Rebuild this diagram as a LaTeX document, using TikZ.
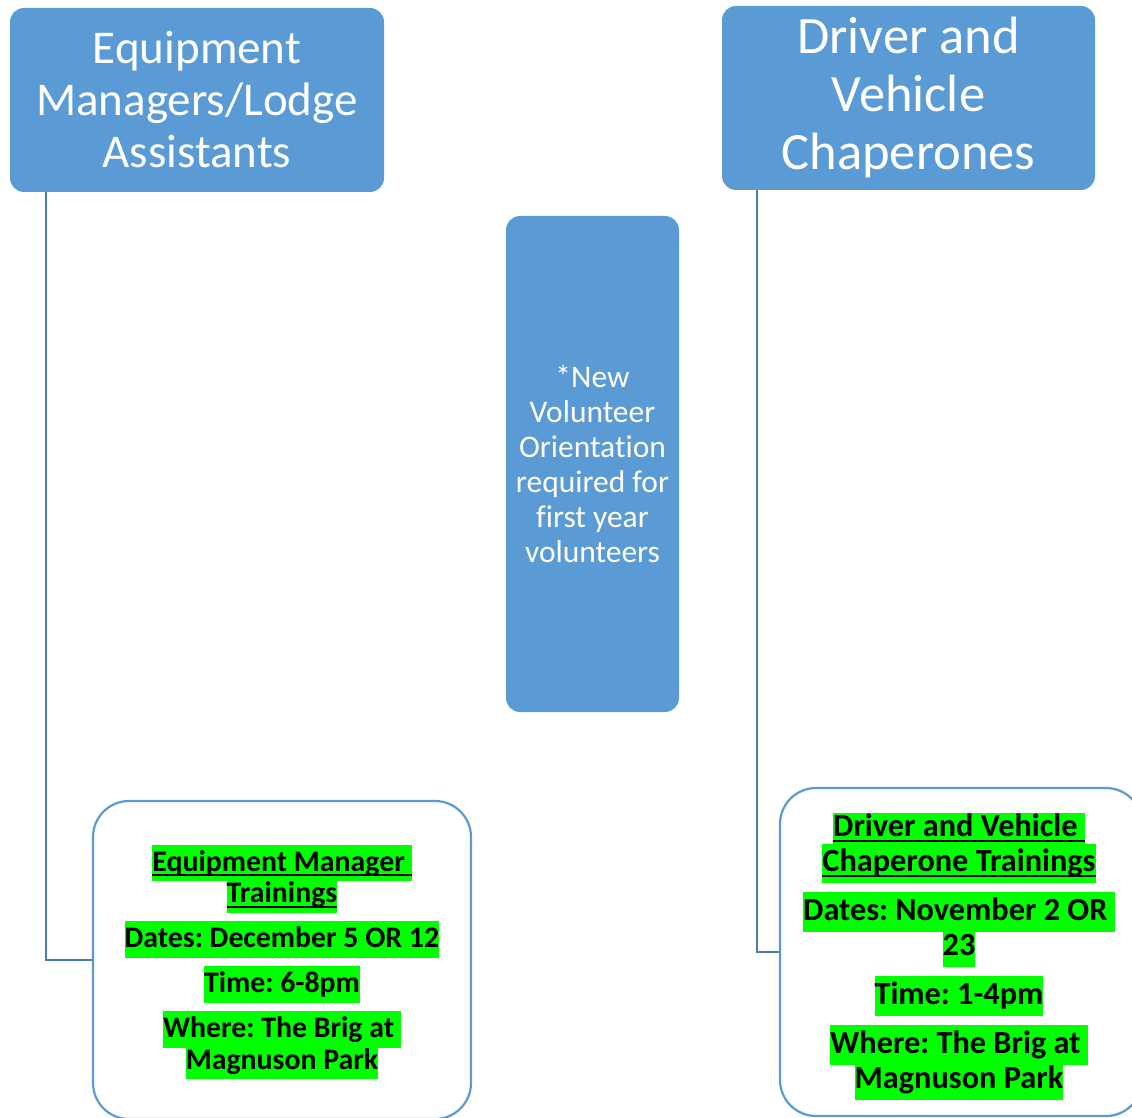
\documentclass[tikz,border=0pt]{standalone}
\usepackage{fontspec}
\setmainfont{Carlito}[Ligatures=NoCommon]
\definecolor{boxblue}{HTML}{5B9BD5}
\definecolor{linkblue}{HTML}{4A7EB4}
\definecolor{hlgreen}{HTML}{00FF00}
\newcommand\hlline[2][0pt]{{\setlength{\fboxsep}{0pt}\colorbox{hlgreen}{\vrule height \dimexpr 0.69\baselineskip+#1\relax depth 0.31\baselineskip width 0pt\relax #2}}}
\newcommand\myul[1]{\setbox0=\hbox{#1}\rlap{\vrule height -0.1em depth 0.165em width \wd0}\box0}
\newcommand\tightlines{\lineskiplimit=-100pt\relax\lineskip=0pt\relax\frenchspacing}
\tikzset{
  rolebox/.style={fill=boxblue, draw=none, rounded corners=14pt, text=white, align=center, inner sep=0pt},
  trainbox/.style={draw=boxblue, line width=2.2pt, fill=white, rounded corners=36pt, inner sep=0pt},
  link/.style={draw=linkblue, line width=2pt},
}
\begin{document}
\begin{tikzpicture}[x=1pt,y=-1pt]
\useasboundingbox (0,0) rectangle (1132,1118);
% top role boxes
\node[rolebox, minimum width=374pt, minimum height=184pt,
      font=\fontsize{47}{52}\selectfont] (em) at (197,100)
  {Equipment\\Managers/Lodge\\Assistants};
\node[rolebox, minimum width=373pt, minimum height=184pt,
      font=\fontsize{52.5}{58}\selectfont] (dv) at (908.5,98)
  {Driver and\\Vehicle\\Chaperones};
\node[rolebox, minimum width=173pt, minimum height=496pt,
      font=\fontsize{31.5}{35}\selectfont] (mid) at (592.5,464)
  {*New\\Volunteer\\Orientation\\required for\\first year\\volunteers};
% training boxes
\node[trainbox, minimum width=378pt, minimum height=318pt] (emt) at (282,960) {};
\node[align=center, inner sep=0pt,
      font=\bfseries\fontsize{29.8}{31.5}\selectfont\tightlines] (emtx) at (282,962)
  {\hlline[5pt]{\myul{Equipment Manager\ }}\\
   \hlline{\myul{Trainings}}\\[13.5pt]
   \hlline[5.5pt]{Dates: December 5 OR 12}\\[13.5pt]
   \hlline[5.5pt]{Time: 6-8pm}\\[13.5pt]
   \hlline[5.5pt]{Where: The Brig at\ }\\
   \hlline{Magnuson Park}};
\node[trainbox, minimum width=362pt, minimum height=328pt] (dvt) at (961,952) {};
\node[align=center, inner sep=0pt,
      font=\bfseries\fontsize{32.3}{35}\selectfont\tightlines] (dvtx) at (959,956)
  {\hlline{\myul{Driver and Vehicle\ }}\\
   \hlline[4pt]{\myul{Chaperone Trainings}}\\[14pt]
   \hlline[5pt]{Dates: November 2 OR\ }\\
   \hlline{23}\\[14pt]
   \hlline[5pt]{Time: 1-4pm}\\[14pt]
   \hlline[5pt]{Where: The Brig at\ }\\
   \hlline{Magnuson Park}};
% connectors
\draw[link] ([xshift=36pt]em.south west) |- (emt.west);
\draw[link] ([xshift=35pt]dv.south west) |- (dvt.west);
\end{tikzpicture}
\end{document}
